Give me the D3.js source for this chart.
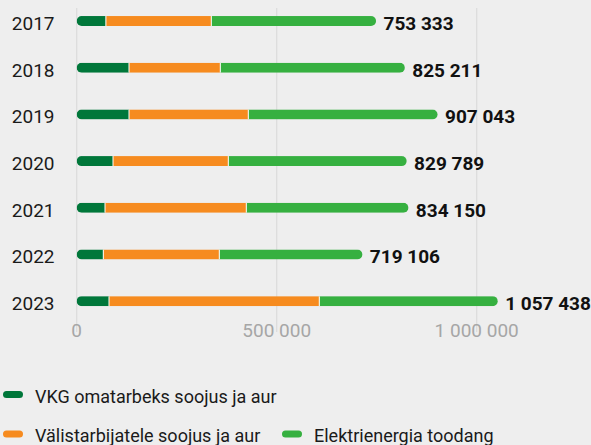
<!DOCTYPE html>
<html><head><meta charset="utf-8">
<script src="https://cdn.jsdelivr.net/npm/d3@7"></script>
<style>body{margin:0;background:#eeeeee;}svg{display:block;font-family:Roboto,"Noto Sans",sans-serif;}</style>
</head><body>
<script>
const years = ["2017","2018","2019","2020","2021","2022","2023"];
const vkgOwn = [73000,130750,130750,90750,70750,66500,80750];
const external = [263500,228250,298250,288250,353250,290000,525750];
const electricity = [416833,466211,478043,450789,410150,362606,450938];
const totals = [753333,825211,907043,829789,834150,719106,1057438];
const totalLabels = ["753 333","825 211","907 043","829 789","834 150","719 106","1 057 438"];
const tickValues = [0,500000,1000000];
const tickLabels = ["0","500 000","1 000 000"];
const seriesNames = ["VKG omatarbeks soojus ja aur","Välistarbijatele soojus ja aur","Elektrienergia toodang"];
const colors = ["#00773a","#f68b1f","#36b040"];

const W=591,H=445;
const svg=d3.select("body").append("svg").attr("width",W).attr("height",H);
svg.append("rect").attr("width",W).attr("height",H).attr("fill","#eeeeee");

const x=d3.scaleLinear().domain([0,1000000]).range([76.7,476.7]);
const y=d3.scaleBand().domain(years).range([-2.3,324.5]).paddingInner(0.78).paddingOuter(0.39);

// grid
svg.append("g").selectAll("line").data(tickValues).join("line")
  .attr("x1",d=>x(d)).attr("x2",d=>x(d)).attr("y1",8).attr("y2",332)
  .attr("stroke","#dcdcdc").attr("stroke-width",1.3);

// tick labels
svg.append("g").selectAll("text").data(tickValues).join("text")
  .attr("x",d=>x(d)).attr("y",336.5).attr("text-anchor","middle")
  .attr("font-size",19).attr("fill","#a6a6a6").text((d,i)=>tickLabels[i]);

const rows = years.map((yr,i)=>({yr,vals:[vkgOwn[i],external[i],electricity[i]],total:totals[i],label:totalLabels[i]}));
const bh=10, inset=2;
rows.forEach((r,i)=>{
  const g=svg.append("g");
  const cy=y(r.yr)+y.bandwidth()/2;
  const clipId="c"+i;
  const end = r.vals.reduce((a,b)=>a+b,0);
  svg.append("clipPath").attr("id",clipId).append("rect")
    .attr("x",x(0)).attr("y",cy-bh/2).attr("width",x(end)-x(0)-inset).attr("height",bh).attr("rx",5);
  let acc=0;
  const segs=r.vals.map((v,k)=>{const s={x0:acc,x1:acc+v,k};acc+=v;return s;});
  g.attr("clip-path",`url(#${clipId})`).selectAll("rect").data(segs).join("rect")
    .attr("x",d=>x(d.x0)).attr("width",d=>x(d.x1)-x(d.x0)).attr("y",cy-bh/2).attr("height",bh)
    .attr("fill",d=>colors[d.k]);
  g.selectAll("line").data(segs.slice(1)).join("line")
    .attr("x1",d=>x(d.x0)).attr("x2",d=>x(d.x0)).attr("y1",cy-bh/2).attr("y2",cy+bh/2)
    .attr("stroke","#ffffff").attr("stroke-width",1);
  svg.append("text").attr("x",x(end)+5.5).attr("y",cy+9).attr("font-size",19).attr("font-weight",700)
    .attr("fill","#111").text(r.label);
  svg.append("text").attr("x",54.5).attr("y",cy+9).attr("text-anchor","end").attr("font-size",19)
    .attr("fill","#1a1a1a").text(r.yr);
});

// legend
const leg=[{i:0,x:3,y:394.5},{i:1,x:3,y:434},{i:2,x:282,y:434}];
leg.forEach(l=>{
  svg.append("line").attr("x1",l.x+3.5).attr("x2",l.x+16.5).attr("y1",l.y).attr("y2",l.y)
    .attr("stroke",colors[l.i]).attr("stroke-width",7).attr("stroke-linecap","round");
  svg.append("text").attr("x",l.x+32).attr("y",l.y+8).attr("font-size",18).attr("fill","#1a1a1a")
    .text(seriesNames[l.i]);
});
</script>
</body></html>
